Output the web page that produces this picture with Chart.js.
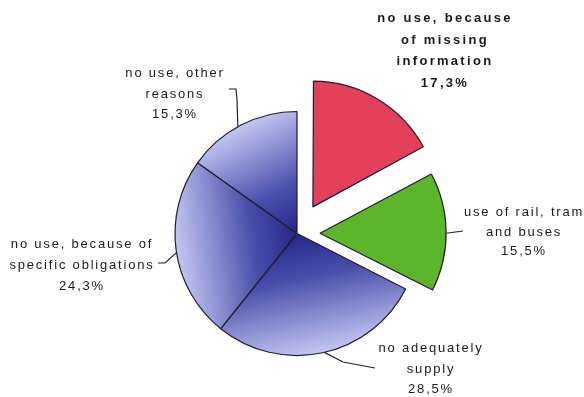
<!DOCTYPE html>
<html lang="en">
<head>
  <meta charset="UTF-8" />
  <title>Use of public transport</title>
  <script src="https://cdn.jsdelivr.net/npm/chart.js"></script>
  <style>
    body {
      margin: 0;
      background-color: #fff;
    }
    #wrap {
      width: 584px;
      height: 397px;
    }
  </style>
</head>
<body>
  <div id="wrap">
    <canvas id="usageChart" width="584" height="397"></canvas>
  </div>

  <script>
    // shares in percent, clockwise from 12 o'clock
    const categories = [
      "no use, because of missing information",
      "use of rail, tram and buses",
      "no adequately supply",
      "no use, because of specific obligations",
      "no use, other reasons"
    ];
    const shares = [17.3, 15.5, 28.5, 24.3, 15.3];
    const shareLabels = ["17,3%", "15,5%", "28,5%", "24,3%", "15,3%"];
    const labelLines = [
      ["no use, because", "of missing", "information"],
      ["use of rail, tram", "and buses"],
      ["no adequately", "supply"],
      ["no use, because of", "specific obligations"],
      ["no use, other", "reasons"]
    ];

    // how far each slice is pulled out, in px (chart.js moves an arc by offset / 4)
    const explode = [31, 23, 0, 0, 0];
    const flatColors = ["#e2405c", "#5db52b", null, null, null];
    const blueDark = "#17177a";
    const blueLight = "#c3c7f2";
    const pieRadius = 122;

    // label placement: text centre x, first baseline y, line step, anchor angle on the rim, leader elbows
    const labelLayout = [
      { x: 445, y: 22, step: 21.5, bold: true, anchor: null, path: [] },
      { x: 524, y: 216, step: 19.5, anchor: 90, path: [[463, 231]] },
      { x: 431, y: 352, step: 20.5, anchor: 167, path: [[343, 362], [375, 368]] },
      { x: 82, y: 248, step: 21, anchor: 261, path: [[165, 263], [158, 263]] },
      { x: 175, y: 77, step: 20.5, anchor: 331, path: [[237, 100], [236, 89], [229, 89]] }
    ];

    const total = shares.reduce((a, b) => a + b, 0);

    function midAngle(i) {
      let start = 0;
      for (let k = 0; k < i; k++) start += shares[k];
      return ((start + shares[i] / 2) / total) * Math.PI * 2;
    }

    function sliceFill(context) {
      const i = context.dataIndex;
      if (flatColors[i]) return flatColors[i];
      const chart = context.chart;
      const area = chart.chartArea;
      if (!area) return blueDark;
      const cx = (area.left + area.right) / 2;
      const cy = (area.top + area.bottom) / 2;
      const r = pieRadius;
      const a = midAngle(i);
      const g = chart.ctx.createLinearGradient(
        cx - 0.15 * r * Math.sin(a), cy + 0.15 * r * Math.cos(a),
        cx + r * Math.sin(a), cy - r * Math.cos(a)
      );
      g.addColorStop(0, blueDark);
      g.addColorStop(0.45, "#4a4eaa");
      g.addColorStop(1, blueLight);
      return g;
    }

    const labelPlugin = {
      id: "sliceLabels",
      afterDraw(chart) {
        const ctx = chart.ctx;
        const meta = chart.getDatasetMeta(0);
        ctx.save();
        ctx.strokeStyle = "#222";
        ctx.lineWidth = 1.2;
        ctx.fillStyle = "#1a1a1a";
        ctx.textAlign = "center";
        ctx.textBaseline = "alphabetic";

        labelLayout.forEach((lay, i) => {
          const arc = meta.data[i];
          if (lay.anchor !== null) {
            const a = lay.anchor * Math.PI / 180;
            const m = midAngle(i);
            const ox = explode[i] * Math.sin(m);
            const oy = -explode[i] * Math.cos(m);
            // pulled-out arcs are also drawn a little larger
            const grow = explode[i] * (1 - Math.sin(Math.min(Math.PI, arc.circumference)));
            const r = arc.outerRadius + grow;
            ctx.beginPath();
            ctx.moveTo(arc.x + ox + r * Math.sin(a), arc.y + oy - r * Math.cos(a));
            lay.path.forEach(p => ctx.lineTo(p[0], p[1]));
            ctx.stroke();
          }

          if (lay.bold) {
            ctx.font = "bold 13px 'Liberation Sans', Arial, sans-serif";
            ctx.letterSpacing = "2.3px";
          } else {
            ctx.font = "13px 'Liberation Sans', Arial, sans-serif";
            ctx.letterSpacing = "1.8px";
          }
          const lines = labelLines[i].concat([shareLabels[i]]);
          lines.forEach((t, k) => ctx.fillText(t, lay.x, lay.y + k * lay.step));
        });
        ctx.restore();
      }
    };

    const ctx = document.getElementById("usageChart").getContext("2d");
    new Chart(ctx, {
      type: "pie",
      data: {
        labels: categories,
        datasets: [{
          data: shares,
          backgroundColor: sliceFill,
          borderColor: "#1d1d2e",
          borderWidth: 1.2,
          offset: explode.map(d => d * 4),
          hoverOffset: 0
        }]
      },
      options: {
        responsive: false,
        animation: false,
        radius: pieRadius,
        layout: { padding: { left: 10, right: 0, top: 70, bottom: 0 } },
        plugins: {
          legend: { display: false },
          tooltip: { enabled: false }
        }
      },
      plugins: [labelPlugin]
    });
  </script>
</body>
</html>
